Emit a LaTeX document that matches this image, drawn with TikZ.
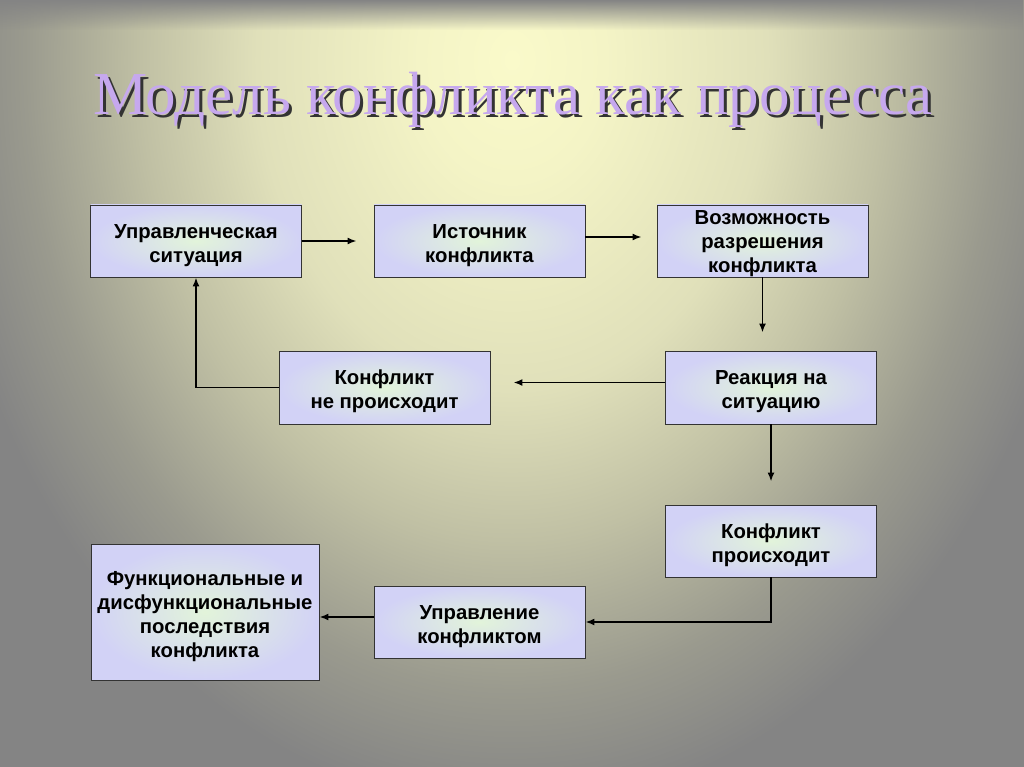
\documentclass[tikz,border=0pt]{standalone}
\usepackage{fontspec}
\setmainfont{Liberation Sans}
\newfontfamily\titlefont{Liberation Serif}
\usetikzlibrary{arrows.meta,fadings}
\definecolor{bg0}{HTML}{FAFACA}
\definecolor{bg1}{HTML}{F4F4C6}
\definecolor{bg2}{HTML}{E0E0BA}
\definecolor{bg3}{HTML}{C0C0A4}
\definecolor{bg4}{HTML}{9A9A8E}
\definecolor{bgC}{HTML}{848484}
\definecolor{boxIn}{HTML}{E2F4DA}
\definecolor{boxOut}{HTML}{D2D2F6}
\definecolor{titleC}{HTML}{C6A8EE}
\newcommand\firstln{\rule{0pt}{23pt}}
\newcommand\firstlnb{\rule{0pt}{19.5pt}}
\pgfdeclareradialshading{bgshade}{\pgfpoint{0bp}{0bp}}{color(0bp)=(bg0); color(4bp)=(bg1); color(11bp)=(bg2); color(16bp)=(bg3); color(21bp)=(bg4); color(25bp)=(bgC); color(50bp)=(bgC)}
\tikzset{
  box/.style={draw=black!80, line width=0.9pt, inner color=boxIn, outer color=boxOut,
    minimum width=211pt, minimum height=72pt, inner sep=0pt, align=center,
    font=\fontsize{20.3}{24}\selectfont\bfseries},
  arr/.style={draw=black, line width=1.7pt, -{Latex[length=9pt,width=7pt]}},
}
\begin{document}
\begin{tikzpicture}[x=1pt,y=-1pt]
\useasboundingbox (0,0) rectangle (1024,767);
\begin{scope}
\clip (0,0) rectangle (1024,767);
\fill[bgC] (0,0) rectangle (1024,767);
\shade[shading=bgshade] (512,60) ellipse (580 and 750);
\fill[bgC, path fading=south] (0,0) rectangle (1024,30);
\end{scope}
% title
\node[text=black!80, font=\titlefont\fontsize{61}{63}\selectfont] (tshadow) at (516,103) {Модель конфликта как процесса};
\node[text=titleC, font=\titlefont\fontsize{61}{63}\selectfont] (title) at (513,100) {Модель конфликта как процесса};
% boxes
\node[box] (b1) at (196,241) {\firstln Управленческая\\ситуация};
\node[box] (b2) at (479.5,241) {\firstln Источник\\конфликта};
\node[box] (b3) at (762.5,241) {\firstlnb Возможность\\разрешения\\конфликта};
\node[box, minimum height=73pt] (b4) at (384.5,387.5) {\firstln Конфликт\\ не происходит};
\node[box, minimum height=73pt] (b5) at (771,387.5) {\firstln Реакция на\\ситуацию};
\node[box] (b6) at (771,541) {\firstln Конфликт\\происходит};
\node[box, minimum width=228pt, minimum height=136pt] (b7) at (205,612) {\firstln Функциональные и\\дисфункциональные\\последствия\\конфликта};
\node[box] (b8) at (479.5,622) {\firstln Управление\\конфликтом};
% connectors
\draw[arr, shorten >=17pt] (b1.east) -- (b2.west);
\draw[arr, shorten >=15pt] ([yshift=4pt]b2.east) -- ([yshift=4pt]b3.west);
\draw[arr, shorten >=18pt] (b3.south) -- (b3.south |- b5.north);
\draw[arr, shorten >=23pt] ([yshift=5pt]b5.west) -- ([yshift=5pt]b4.east);
\draw[arr, shorten >=23pt] (b5.south) -- (b6.north);
\draw[arr] (b4.west) -| (b1.south);
\draw[arr] (b6.south) |- (b8.east);
\draw[arr] ([yshift=5pt]b8.west) -- ([yshift=5pt]b8.west -| b7.east);
\end{tikzpicture}
\end{document}
